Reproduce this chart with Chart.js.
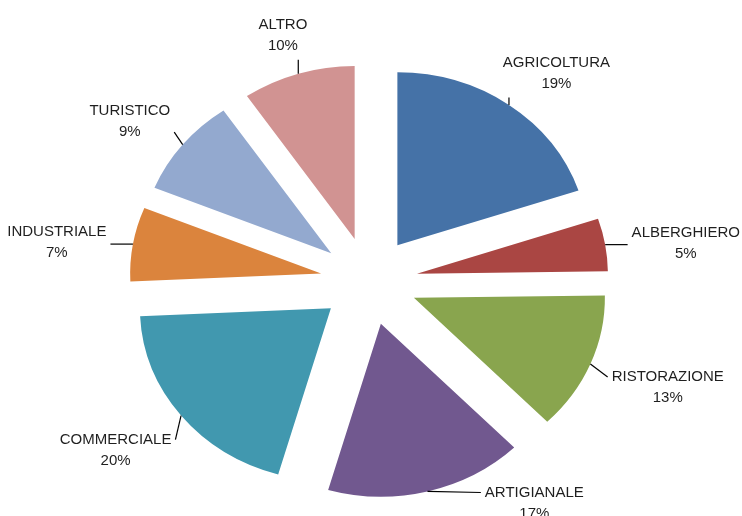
<!DOCTYPE html>
<html>
<head>
<meta charset="utf-8">
<script src="https://cdn.jsdelivr.net/npm/chart.js@4.4.0/dist/chart.umd.min.js"></script>
<style>
  html, body { margin: 0; padding: 0; background: #fff; }
  #wrap { width: 742px; height: 516px; }
</style>
</head>
<body>
<div id="wrap"><canvas id="pieChart"></canvas></div>
<script>
const sectors = ["AGRICOLTURA", "ALBERGHIERO", "RISTORAZIONE", "ARTIGIANALE", "COMMERCIALE", "INDUSTRIALE", "TURISTICO", "ALTRO"];
// slice sizes (share of the full circle, %)
const shares = [19.86, 4.92, 12.92, 16.75, 19.81, 6.92, 9.28, 9.54];
// percentages as printed in the labels
const printedPct = ["19%", "5%", "13%", "17%", "20%", "7%", "9%", "10%"];
const sliceColors = ["#4572A7", "#AA4643", "#89A54E", "#71588F", "#4198AF", "#DB843D", "#93A9CF", "#D19392"];

const RADIUS = 173;
const EXPLODE = 44;      // every slice pulled out by the same amount
const STRETCH_X = 1.104; // the source picture is a little wider than tall
const LABEL_GAP = 25;
const LABEL_DROP = 6;    // labels sit a touch low in the source
const LINE_H = 21;
const LABEL_FONT = "15px 'Liberation Sans', Arial, sans-serif";

function pieCenter(chart) {
  const a = chart.chartArea;
  return { cx: (a.left + a.right) / 2, cy: (a.top + a.bottom) / 2 };
}

function shiftOf(arc) {
  const mid = (arc.startAngle + arc.endAngle) / 2;
  return { dx: Math.cos(mid) * EXPLODE, dy: Math.sin(mid) * EXPLODE };
}

// is a screen point on top of an (exploded, stretched) slice?
function insideSlice(arc, px, py, cx) {
  const s = shiftOf(arc);
  const qx = (px - cx) / STRETCH_X + cx - (arc.x + s.dx);
  const qy = py - (arc.y + s.dy);
  if (Math.hypot(qx, qy) > RADIUS) return false;
  let ang = Math.atan2(qy, qx);
  while (ang < arc.startAngle) ang += Math.PI * 2;
  while (ang >= arc.startAngle + Math.PI * 2) ang -= Math.PI * 2;
  return ang <= arc.endAngle;
}

const explodePlugin = {
  id: "explode",
  beforeDatasetDraw(chart, args) {
    const { cx } = pieCenter(chart);
    const ctx = chart.ctx;
    args.meta.data.forEach(arc => {
      const s = shiftOf(arc);
      arc.x += s.dx;
      arc.y += s.dy;
    });
    ctx.save();
    ctx.translate(cx, 0);
    ctx.scale(STRETCH_X, 1);
    ctx.translate(-cx, 0);
  },
  afterDatasetDraw(chart, args) {
    chart.ctx.restore();
    args.meta.data.forEach(arc => {
      const s = shiftOf(arc);
      arc.x -= s.dx;
      arc.y -= s.dy;
    });
  }
};

const labelPlugin = {
  id: "outLabels",
  afterDraw(chart) {
    const { ctx, height } = chart;
    const { cx, cy } = pieCenter(chart);
    const arcs = chart.getDatasetMeta(0).data;
    ctx.save();
    ctx.font = LABEL_FONT;
    ctx.textAlign = "center";
    ctx.textBaseline = "middle";
    arcs.forEach((arc, i) => {
      const mid = (arc.startAngle + arc.endAngle) / 2;
      const ux = Math.cos(mid), uy = Math.sin(mid);
      const lines = [sectors[i], printedPct[i]];
      const w = Math.max(...lines.map(t => ctx.measureText(t).width));
      const h = LINE_H * lines.length;
      const edge = RADIUS + EXPLODE;
      const ax = cx + STRETCH_X * edge * ux;
      const ay = cy + edge * uy;
      const far = edge + LABEL_GAP;
      let bx = cx + STRETCH_X * far * ux + ux * w / 2;
      let by = cy + far * uy + uy * h / 2 + LABEL_DROP;

      // keep the box on the canvas; slide it sideways off the slice if needed
      let moved = false;
      if (by + h / 2 > height + 8) { by = height + 8 - h / 2; moved = true; }
      if (by - h / 2 < 2) { by = 2 + h / 2; moved = true; }
      if (moved) {
        const dir = ux >= 0 ? 1 : -1;
        const hits = () => arcs.some(a =>
          [-h / 2, 0, h / 2].some(oy => insideSlice(a, bx - dir * (w / 2 + 27), by + oy, cx)));
        let guard = 0;
        while (hits() && guard++ < 400) bx += dir;
      }

      const left = bx - w / 2, right = bx + w / 2, top = by - h / 2, bottom = by + h / 2;
      let tx, ty;
      if (ax < left || ax > right) {
        tx = ax < left ? left - 4 : right + 4;
        ty = Math.min(Math.max(ay, top + LINE_H / 2), bottom - LINE_H / 2);
      } else {
        tx = ax;
        ty = ay < top ? top - 3 : bottom + 3;
      }
      ctx.strokeStyle = "#000";
      ctx.lineWidth = 1.2;
      ctx.beginPath();
      ctx.moveTo(ax, ay);
      ctx.lineTo(tx, ty);
      ctx.stroke();

      ctx.fillStyle = "#1f1f1f";
      lines.forEach((t, k) => ctx.fillText(t, bx, top + LINE_H * (k + 0.5)));
    });
    ctx.restore();
  }
};

new Chart(document.getElementById("pieChart"), {
  type: "pie",
  data: {
    labels: sectors,
    datasets: [{
      data: shares,
      backgroundColor: sliceColors,
      borderWidth: 0,
      radius: RADIUS,
      clip: false
    }]
  },
  options: {
    responsive: true,
    maintainAspectRatio: false,
    animation: false,
    events: [],
    layout: { padding: { top: 46, right: 4, left: 0, bottom: 0 } },
    plugins: {
      legend: { display: false },
      tooltip: { enabled: false }
    }
  },
  plugins: [explodePlugin, labelPlugin]
});
</script>
</body>
</html>
